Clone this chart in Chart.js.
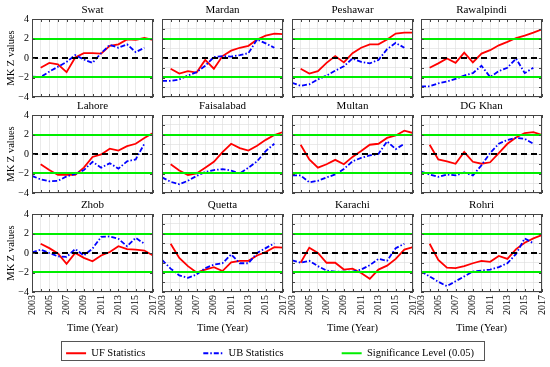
<!DOCTYPE html>
<html>
<head>
<meta charset="utf-8">
<script src="https://cdn.jsdelivr.net/npm/chart.js@4.4.0/dist/chart.umd.min.js"></script>
<style>
  body { margin: 0; background: #fff; }
  #wrap { position: relative; width: 550px; height: 367px; overflow: hidden; }
  #wrap canvas { position: absolute; }
  #legendBox { position: absolute; left: 61px; top: 341px; width: 424px; height: 20px;
               border: 1px solid #555; box-sizing: border-box; overflow: hidden; }
  #legend { left: -92px; top: -52px; }
</style>
</head>
<body>
<div id="wrap">
  <div id="legendBox"><canvas id="legend" width="600" height="140"></canvas></div>
</div>
<script>
//------------------------------------------- Data -------------------------------------------//
const years = [2003, 2004, 2005, 2006, 2007, 2008, 2009, 2010, 2011, 2012, 2013, 2014, 2015, 2016, 2017];
const SIG = 1.96;

// UF runs 2004-2017 (first year empty), UB runs 2003-2016 (last year empty)
const ufSwat        = [null, -1.0, -0.5, -0.65, -1.45, 0.05, 0.5, 0.5, 0.45, 1.25, 1.4, 1.9, 1.85, 2.05, 1.85];
const ubSwat        = [-1.9, -1.95, -1.4, -0.9, -0.4, 0.3, -0.15, -0.5, 0.5, 1.35, 1.05, 1.4, 0.6, 1.05, null];
const ufMardan      = [null, -1.1, -1.6, -1.35, -1.5, -0.2, -1.1, 0.2, 0.75, 1.05, 1.25, 1.9, 2.3, 2.5, 2.45];
const ubMardan      = [-2.35, -2.35, -2.2, -1.8, -1.45, -0.8, 0.1, 0.2, 0.15, 0.3, 0.5, 1.9, 1.5, 1.05, null];
const ufPeshawar    = [null, -1.1, -1.6, -1.35, -0.5, 0.2, -0.45, 0.5, 1.05, 1.4, 1.4, 1.9, 2.5, 2.6, 2.6];
const ubPeshawar    = [-2.55, -2.85, -2.7, -2.2, -1.8, -1.3, -0.85, -0.05, -0.4, -0.55, -0.2, 0.9, 1.55, 1.05, null];
const ufRawalpindi  = [null, -1.0, -0.55, -0.05, -0.5, 0.55, -0.45, 0.45, 0.8, 1.3, 1.65, 2.05, 2.3, 2.6, 2.95];
const ubRawalpindi  = [-2.9, -2.9, -2.6, -2.4, -2.15, -1.8, -1.55, -0.8, -1.95, -1.35, -1.0, -0.05, -1.55, -1.0, null];
const ufLahore      = [null, -1.05, -1.65, -2.15, -2.15, -2.15, -1.4, -0.3, -0.05, 0.55, 0.35, 0.8, 1.05, 1.65, 2.15];
const ubLahore      = [-2.25, -2.6, -2.8, -2.75, -2.3, -2.05, -1.65, -0.8, -1.4, -0.95, -1.5, -0.75, -0.55, 1.05, null];
const ufFaisalabad  = [null, -1.05, -1.7, -2.15, -2.0, -1.4, -0.8, 0.2, 1.05, 0.6, 0.35, 0.85, 1.45, 1.95, 2.25];
const ubFaisalabad  = [-2.4, -2.85, -3.1, -2.75, -2.25, -1.85, -1.65, -1.55, -1.7, -2.0, -1.4, -0.75, 0.3, 1.05, null];
const ufMultan      = [null, 0.95, -0.55, -1.4, -1.05, -0.6, -1.05, -0.3, 0.3, 0.95, 1.05, 1.65, 1.9, 2.4, 2.15];
const ubMultan      = [-2.2, -2.2, -2.9, -2.75, -2.4, -2.1, -1.55, -0.75, -0.4, -0.15, 0.0, 1.3, 0.5, 1.05, null];
const ufDGKhan      = [null, 0.95, -0.55, -0.75, -1.0, 0.2, -0.8, -1.0, -0.85, 0.1, 1.05, 1.7, 2.15, 2.25, 1.95];
const ubDGKhan      = [-1.8, -2.1, -2.35, -2.1, -2.2, -1.9, -2.2, -1.15, 0.1, 1.05, 1.45, 1.65, 1.55, 1.05, null];
const ufZhob        = [null, 0.95, 0.5, -0.05, -1.1, 0.0, -0.5, -0.85, -0.25, 0.1, 0.7, 0.4, 0.35, 0.25, -0.25];
const ubZhob        = [0.05, 0.35, 0.0, -0.35, -0.4, 0.4, -0.25, 0.45, 1.65, 1.7, 1.45, 0.7, 1.55, 0.95, null];
const ufQuetta      = [null, 0.95, -0.5, -1.35, -2.0, -1.7, -1.45, -1.85, -0.95, -0.8, -0.8, -0.25, 0.1, 0.6, 0.55];
const ubQuetta      = [-0.7, -1.6, -2.3, -2.55, -2.2, -1.55, -1.2, -1.05, -0.15, -1.05, -1.05, 0.0, 0.5, 1.0, null];
const ufKarachi     = [null, -1.0, 0.55, 0.0, -1.0, -1.0, -1.7, -1.6, -2.05, -2.65, -1.7, -1.3, -0.6, 0.35, 0.6];
const ubKarachi     = [-0.75, -1.0, -0.8, -1.35, -1.8, -1.9, -1.9, -1.9, -1.7, -1.25, -0.6, -0.8, 0.5, 0.95, null];
const ufRohri       = [null, 0.95, -0.7, -1.5, -1.55, -1.35, -1.05, -0.8, -0.9, -0.3, -0.6, 0.4, 1.05, 1.5, 1.85];
const ubRohri       = [-1.9, -2.4, -2.95, -3.4, -2.9, -2.4, -1.9, -1.8, -1.7, -1.45, -1.05, -0.1, 1.5, 1.0, null];

const stations = ['Swat', 'Mardan', 'Peshawar', 'Rawalpindi', 'Lahore', 'Faisalabad',
                  'Multan', 'DG Khan', 'Zhob', 'Quetta', 'Karachi', 'Rohri'];
const ufSeries = [ufSwat, ufMardan, ufPeshawar, ufRawalpindi, ufLahore, ufFaisalabad,
                  ufMultan, ufDGKhan, ufZhob, ufQuetta, ufKarachi, ufRohri];
const ubSeries = [ubSwat, ubMardan, ubPeshawar, ubRawalpindi, ubLahore, ubFaisalabad,
                  ubMultan, ubDGKhan, ubZhob, ubQuetta, ubKarachi, ubRohri];

//------------------------------------------- Layout / style -------------------------------------------//
const colLeft = [32, 162, 292, 421];
const rowTop = [19, 115, 214];
const PANEL_W = 121;
const PANEL_H = 78;
const LEFT_W = 32;     // space for y ticks + y title
const RIGHT_W = 8;
const TITLE_H = 19;

const RED = '#ff0000';
const BLUE = '#0000ff';
const GREEN = '#00ee00';
const UB_DASH = [5, 2, 1.5, 2];
const FONT = '"Liberation Serif", "Times New Roman", serif';

Chart.defaults.font.family = FONT;
Chart.defaults.color = '#000';

// Frame round the plot area with small inward ticks
const framePlugin = {
    id: 'frame',
    afterDraw(chart) {
        const {ctx, chartArea: a, scales} = chart;
        ctx.save();
        ctx.strokeStyle = '#444';
        ctx.lineWidth = 1;
        ctx.strokeRect(a.left + 0.5, a.top + 0.5, a.right - a.left - 1, a.bottom - a.top - 1);
        ctx.beginPath();
        scales.x.ticks.forEach(t => {
            const px = Math.round(scales.x.getPixelForValue(t.value)) + 0.5;
            ctx.moveTo(px, a.bottom); ctx.lineTo(px, a.bottom - 3);
            ctx.moveTo(px, a.top); ctx.lineTo(px, a.top + 3);
        });
        scales.y.ticks.forEach(t => {
            const py = Math.round(scales.y.getPixelForValue(t.value)) + 0.5;
            ctx.moveTo(a.left, py); ctx.lineTo(a.left + 3, py);
            ctx.moveTo(a.right, py); ctx.lineTo(a.right - 3, py);
        });
        ctx.stroke();
        ctx.restore();
    }
};

// keep the plot area fixed: no extra room for the end labels
function clearPadding(s) {
    s.paddingLeft = 0;
    s.paddingRight = 0;
    s.paddingTop = 0;
    s.paddingBottom = 0;
}

function toPoints(values) {
    return years.map((yr, i) => ({x: yr, y: values[i]}));
}

function flatLine(v) {
    return [{x: years[0], y: v}, {x: years[years.length - 1], y: v}];
}

function fmtY(v) {
    if (v % 2 !== 0) return '';
    return v < 0 ? '\u2212' + (-v) : String(v);
}

//------------------------------------------- Panels -------------------------------------------//
const wrap = document.getElementById('wrap');

function createPanel(idx) {
    const row = Math.floor(idx / 4);
    const col = idx % 4;
    const bottomRow = row === 2;
    const leftCol = col === 0;
    const padB = bottomRow ? 48 : 4;

    const canvas = document.createElement('canvas');
    canvas.width = LEFT_W + PANEL_W + RIGHT_W;
    canvas.height = TITLE_H + PANEL_H + padB;
    canvas.style.left = (colLeft[col] - LEFT_W) + 'px';
    canvas.style.top = (rowTop[row] - TITLE_H) + 'px';
    wrap.appendChild(canvas);

    return new Chart(canvas, {
        type: 'line',
        data: {
            datasets: [
                {data: flatLine(SIG), borderColor: GREEN, borderWidth: 2},
                {data: flatLine(-SIG), borderColor: GREEN, borderWidth: 2},
                {data: flatLine(0), borderColor: '#000', borderWidth: 1.8, borderDash: [6, 4]},
                {data: toPoints(ubSeries[idx]), borderColor: BLUE, borderWidth: 1.8, borderDash: UB_DASH},
                {data: toPoints(ufSeries[idx]), borderColor: RED, borderWidth: 1.8}
            ]
        },
        options: {
            responsive: false,
            animation: false,
            devicePixelRatio: 1,
            layout: {padding: {left: 0, right: RIGHT_W, top: 0, bottom: 0}},
            elements: {point: {radius: 0}, line: {tension: 0}},
            plugins: {
                legend: {display: false},
                tooltip: {enabled: false},
                title: {
                    display: true,
                    text: stations[idx],
                    fullSize: false,
                    font: {size: 11, weight: 'normal'},
                    padding: {top: 4, bottom: 1.8}
                }
            },
            scales: {
                x: {
                    type: 'linear',
                    min: 2003,
                    max: 2017,
                    grid: {color: '#dcdcdc', lineWidth: 0.6, drawTicks: false},
                    border: {display: false},
                    ticks: {
                        display: bottomRow,
                        stepSize: 1,
                        autoSkip: false,
                        minRotation: 90,
                        maxRotation: 90,
                        padding: 3,
                        font: {size: 10},
                        callback: v => (v % 2 === 1 ? String(v) : '')
                    },
                    title: {display: bottomRow, text: 'Time (Year)', font: {size: 10.5}, padding: {top: 0, bottom: 5.5}},
                    afterFit: s => { s.height = padB; clearPadding(s); }
                },
                y: {
                    min: -4,
                    max: 4,
                    grid: {color: '#dcdcdc', lineWidth: 0.6, drawTicks: false},
                    border: {display: false},
                    ticks: {display: leftCol, stepSize: 1, padding: 3, font: {size: 10}, callback: fmtY},
                    title: {display: leftCol, text: 'MK Z values', font: {size: 10.5}, padding: 4.5},
                    afterFit: s => { s.width = LEFT_W; clearPadding(s); }
                }
            }
        },
        plugins: [framePlugin]
    });
}

stations.forEach((name, i) => createPanel(i));

//------------------------------------------- Legend -------------------------------------------//
new Chart(document.getElementById('legend'), {
    type: 'line',
    data: {
        datasets: [
            {label: 'UF Statistics', data: [], borderColor: RED, borderWidth: 2, pointStyle: 'line'},
            {label: 'UB Statistics', data: [], borderColor: BLUE, borderWidth: 2, borderDash: UB_DASH, pointStyle: 'line'},
            {label: 'Significance Level (0.05)', data: [], borderColor: GREEN, borderWidth: 2, pointStyle: 'line'}
        ]
    },
    options: {
        responsive: false,
        animation: false,
        devicePixelRatio: 1,
        scales: {x: {display: false}, y: {display: false}},
        plugins: {
            tooltip: {enabled: false},
            legend: {
                labels: {
                    usePointStyle: true,
                    pointStyleWidth: 20,
                    padding: 58,
                    font: {size: 10.5},
                    color: '#000',
                    generateLabels(chart) {
                        const items = Chart.defaults.plugins.legend.labels.generateLabels(chart);
                        items.forEach(it => {
                            const ds = chart.data.datasets[it.datasetIndex];
                            it.lineDash = ds.borderDash || [];
                            it.lineWidth = 2;
                            it.strokeStyle = ds.borderColor;
                        });
                        return items;
                    }
                }
            }
        }
    }
});
</script>
</body>
</html>
